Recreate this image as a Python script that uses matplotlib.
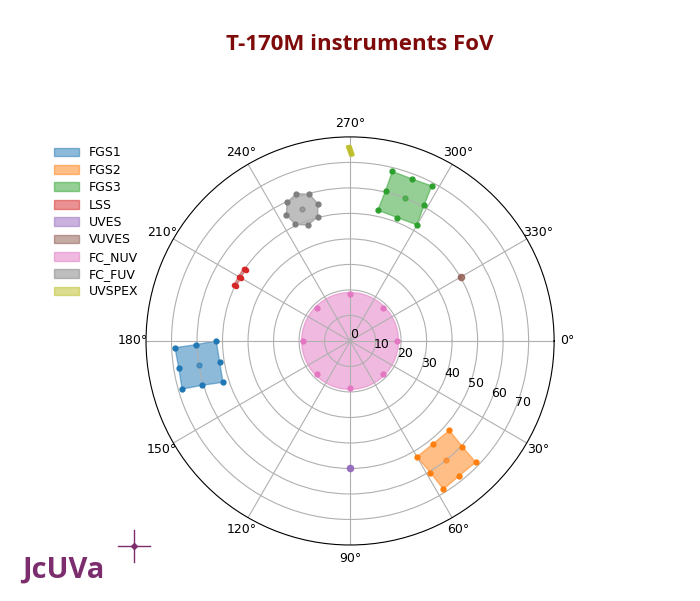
import numpy as np
import matplotlib
matplotlib.use("Agg")
import matplotlib.pyplot as plt

# ---- data (theta in degrees, r in degrees of field) ----
names = ["FGS1", "FGS2", "FGS3", "LSS", "UVES", "VUVES", "FC_NUV", "FC_FUV", "UVSPEX"]
colors = ["tab:blue", "tab:orange", "tab:green", "tab:red", "tab:purple",
          "tab:brown", "tab:pink", "tab:gray", "tab:olive"]

fgs_r = [52.5, 51.8, 52.4, 60.5, 68.5, 68.0, 68.7, 60.5]
fgs1_theta = [180.0, 171.0, 162.0, 163.3, 164.0, 171.0, 177.8, 178.6]
fgs2_theta = [60.0, 51.0, 42.0, 43.3, 44.0, 51.0, 57.8, 58.6]
fgs3_theta = [300.0, 291.0, 282.0, 283.3, 284.0, 291.0, 297.8, 298.6]
fgs_centers_theta = [171.0, 51.0, 291.0]
fgs_center_r = 60.0

lss_theta = [214.2, 210.0, 205.8, 205.8, 205.8, 210.0, 214.2, 214.2]
lss_r = [49.5, 49.5, 49.5, 50.0, 50.5, 50.5, 50.5, 50.0]
lss_center = (210.0, 50.0)

uves_theta = [90.6, 89.4, 89.4, 90.6]
uves_r = [49.6, 49.6, 50.4, 50.4]
uves_center = (90.0, 50.0)

vuves_theta = [330.6, 329.4, 329.4, 330.6]
vuves_r = [49.6, 49.6, 50.4, 50.4]
vuves_center = (330.0, 50.0)

nuv_theta = [0, 45, 90, 135, 180, 225, 270, 315]
nuv_r_edge = 19.0
nuv_r_pts = 18.5

fuv_theta = [250.0, 254.5, 256.8, 255.4, 250.0, 244.8, 243.2, 245.5]
fuv_r = [61.5, 59.7, 55.3, 50.3, 48.3, 50.5, 55.3, 59.7]
fuv_center = (250.0, 54.9)

uvspex_theta = [269.3, 270.0, 270.9, 270.2]
uvspex_r = [76.1, 76.3, 73.0, 72.8]

rticks = [0, 10, 20, 30, 40, 50, 60, 70]
rmax = 80
thetagrid = list(range(0, 360, 30))

title = "T-170M instruments FoV"

# ---- figure ----
fig = plt.figure(figsize=(7.0, 6.01), dpi=100)
ax = fig.add_axes([0.2086, 0.0932, 0.583, 0.679], projection="polar")
ax.set_theta_zero_location("E")
ax.set_theta_direction(-1)
ax.set_ylim(0, rmax)
ax.set_rticks(rticks)
ax.set_thetagrids(thetagrid)
ax.tick_params(labelsize=9)
ax.tick_params(axis="x", pad=-1)
ax.grid(True, color="#b0b0b0", linewidth=0.8)

d = np.deg2rad
ms = 3.5

def shape(theta, r, color, label, center=None, msize=ms):
    ax.fill(d(np.array(theta)), r, color=color, alpha=0.5, label=label)
    ax.plot(d(np.array(theta)), r, "o", color=color, ms=msize, linestyle="none")
    if center is not None:
        ax.plot(d(center[0]), center[1], "o", color=color, ms=msize, alpha=0.6)

shape(fgs1_theta, fgs_r, colors[0], names[0], (fgs_centers_theta[0], fgs_center_r))
shape(fgs2_theta, fgs_r, colors[1], names[1], (fgs_centers_theta[1], fgs_center_r))
shape(fgs3_theta, fgs_r, colors[2], names[2], (fgs_centers_theta[2], fgs_center_r))
shape(lss_theta, lss_r, colors[3], names[3], lss_center, msize=3)

ax.fill(d(np.array(uves_theta)), uves_r, color=colors[4], alpha=0.5, label=names[4])
ax.plot(d(uves_center[0]), uves_center[1], "o", color=colors[4], ms=4.5, alpha=0.9)
ax.fill(d(np.array(vuves_theta)), vuves_r, color=colors[5], alpha=0.5, label=names[5])
ax.plot(d(vuves_center[0]), vuves_center[1], "o", color=colors[5], ms=4.5, alpha=0.75)

poly, = ax.fill(d(np.array(nuv_theta + [360])), [nuv_r_edge] * (len(nuv_theta) + 1),
                color=colors[6], alpha=0.5, label=names[6])
poly.get_path()._interpolation_steps = 100
ax.plot(d(np.array(nuv_theta)), [nuv_r_pts] * len(nuv_theta), "o",
        color=colors[6], ms=ms, linestyle="none")

shape(fuv_theta, fuv_r, colors[7], names[7], fuv_center)

ax.fill(d(np.array(uvspex_theta)), uvspex_r, color=colors[8], alpha=0.5,
        label=names[8])
ax.plot(d(np.array(uvspex_theta + uvspex_theta[:1])), uvspex_r + uvspex_r[:1],
        color=colors[8], lw=2.5, alpha=0.9, solid_capstyle="round",
        solid_joinstyle="round")

fig.legend(loc="upper left", bbox_to_anchor=(0.0614, 0.775), frameon=False,
           fontsize=9, labelspacing=0.35)

fig.text(359.5 / 700, 1 - 45 / 601, title, ha="center", va="center",
         fontsize=16, fontweight="bold", color="#7f0a0a", family="Open Sans")

# logo
logo_color = "#7b2d6e"
fig.text(22 / 700, 1 - 570 / 601, "JcUVa", ha="left", va="center",
         fontsize=21, fontweight="bold", color=logo_color, family="Open Sans")
fig.add_artist(plt.Line2D([118 / 700, 150 / 700], [1 - 546 / 601, 1 - 546 / 601],
                          transform=fig.transFigure, color=logo_color, lw=1.0))
fig.add_artist(plt.Line2D([134 / 700, 134 / 700], [1 - 530 / 601, 1 - 562 / 601],
                          transform=fig.transFigure, color=logo_color, lw=1.0))
fig.add_artist(plt.Line2D([134 / 700], [1 - 546 / 601], transform=fig.transFigure,
                          color=logo_color, marker="D", ms=3, lw=0))

fig.savefig("out.png", dpi=100)
